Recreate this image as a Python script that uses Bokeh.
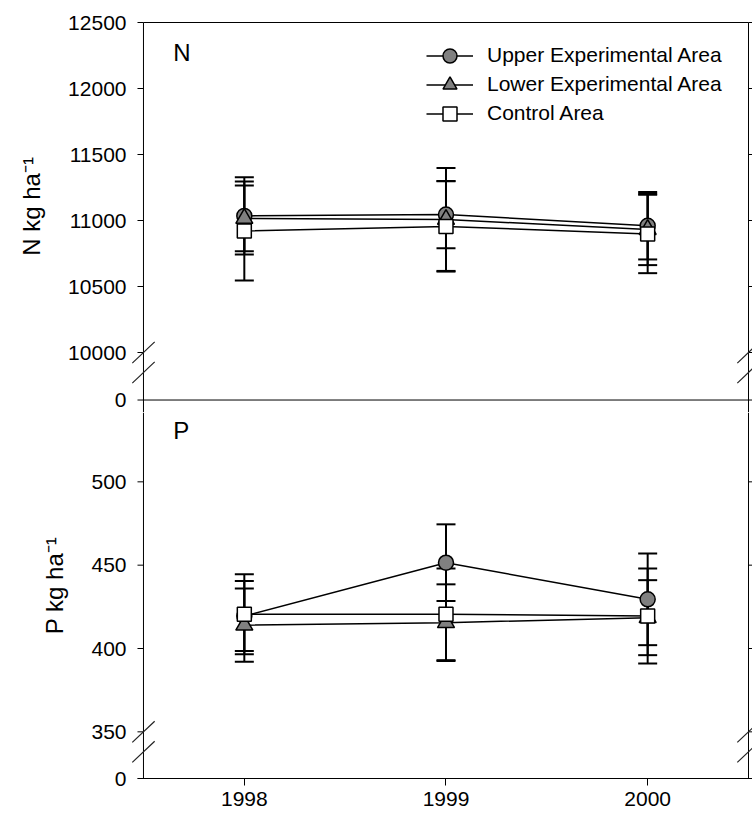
from bokeh.plotting import figure
from bokeh.layouts import column
from bokeh.models import (Range1d, LinearAxis, FixedTicker, Whisker, TeeHead,
                          ColumnDataSource, Legend, LegendItem, Label)
from bokeh.embed import file_html
from bokeh.resources import INLINE

# ---------------- data ----------------
years = [1998, 1999, 2000]
series_names = ["Upper Experimental Area", "Lower Experimental Area", "Control Area"]

n_upper = [11035, 11045, 10960]
n_upper_err = [293, 255, 255]
n_lower = [11016, 11008, 10932]
n_lower_err = [249, 390, 270]
n_control = [10920, 10955, 10898]
n_control_err = [375, 342, 297]

p_upper = [419.5, 451.5, 429.5]
p_upper_err = [21, 23, 27.5]
p_lower = [414, 415.5, 418.5]
p_lower_err = [22, 23, 22.5]
p_control = [420.5, 420.5, 419.5]
p_control_err = [24, 27.5, 28.5]

n_ticks = [10000, 10500, 11000, 11500, 12000, 12500]
p_ticks = [350, 400, 450, 500]
year_ticks = [1998, 1999, 2000]
N_ZERO = 9640      # axis position standing for 0 below the break
P_ZERO = 322

# ---------------- layout constants (pixels) ----------------
FONT = "Liberation Sans"
CANVAS_W = 752
FRAME_LEFT = 131
AXIS_PX = 143
RIGHT_AXIS_PX = 748
PX_PER_YEAR = 202.0
X_AXIS_POS = 1997.5
X_RIGHT_POS = 2000.5
x_start = X_AXIS_POS - (AXIS_PX - FRAME_LEFT) / PX_PER_YEAR
x_end = X_RIGHT_POS + (CANVAS_W - RIGHT_AXIS_PX) / PX_PER_YEAR
FRAME_W = CANVAS_W - FRAME_LEFT
TICK_LEN = 6 / PX_PER_YEAR

N_TOP = 12500
N_UPP = 2500.0 / 330.0          # data units per pixel
N_TOP_BORDER = 20
N_TOP_PX = 22                   # pixel row of N_TOP
N_FRAME_H = 392
P_FRAME_H = 366
P_BOTTOM_BORDER = 36
P_UPP = 50.0 / (250.0 / 3.0)
PAD = "\u00a0\u00a0\u00a0"      # nudges the rotated axis titles upwards

marker_styles = [
    dict(marker="circle", size=15, fill_color="#808080"),
    dict(marker="triangle", size=17, fill_color="#808080"),
    dict(marker="square", size=14, fill_color="white"),
]


def new_fig(height, frame_h, top_border, bottom_border, y_lo, y_hi):
    f = figure(width=CANVAS_W, height=height,
               frame_width=FRAME_W, frame_height=frame_h,
               min_border_left=FRAME_LEFT, min_border_right=0,
               min_border_top=top_border, min_border_bottom=bottom_border,
               x_range=Range1d(x_start, x_end), y_range=Range1d(y_lo, y_hi),
               x_axis_location=None, y_axis_location=None,
               output_backend="svg", toolbar_location=None)
    f.xgrid.grid_line_color = None
    f.ygrid.grid_line_color = None
    f.outline_line_color = None
    return f


def label_axis(ticks, zero, label):
    # tick labels and axis title only; the visible axis line is drawn at x = 1997.5
    ax = LinearAxis(ticker=FixedTicker(ticks=[zero] + ticks),
                    major_label_overrides={zero: "0"}, axis_label=label)
    ax.axis_line_color = None
    ax.major_tick_line_color = None
    ax.minor_tick_line_color = None
    ax.major_tick_out = 0
    ax.major_tick_in = 0
    ax.major_label_text_font = FONT
    ax.major_label_text_font_size = "21px"
    ax.major_label_text_color = "black"
    ax.major_label_standoff = 5
    ax.axis_label_text_font = FONT
    ax.axis_label_text_font_size = "24px"
    ax.axis_label_text_font_style = "normal"
    ax.axis_label_text_color = "black"
    ax.axis_label_standoff = 20
    return ax


def frame_lines(fig, ticks, zero, lo, hi, break_val, upp):
    blk = dict(line_color="black", line_width=1)
    # left axis line + outward ticks
    fig.line([X_AXIS_POS, X_AXIS_POS], [lo, hi], **blk)
    all_t = [zero] + ticks
    fig.segment(x0=[X_AXIS_POS - TICK_LEN] * len(all_t), y0=all_t,
                x1=[X_AXIS_POS] * len(all_t), y1=all_t, **blk)
    # right frame line + outward ticks
    fig.line([X_RIGHT_POS, X_RIGHT_POS], [lo, hi], **blk)
    fig.segment(x0=[X_RIGHT_POS] * len(ticks), y0=ticks,
                x1=[X_RIGHT_POS + 5 / PX_PER_YEAR] * len(ticks), y1=ticks, **blk)
    # axis-break slashes on both vertical edges
    dx = 11.2 / PX_PER_YEAR
    dy = 10.6 * upp
    x0s, y0s, x1s, y1s = [], [], [], []
    for xa in (X_AXIS_POS, X_RIGHT_POS):
        for yc in (break_val, break_val - 20 * upp):
            x0s.append(xa - dx); y0s.append(yc - dy)
            x1s.append(xa + dx); y1s.append(yc + dy)
    fig.segment(x0=x0s, y0=y0s, x1=x1s, y1=y1s, line_color="#222222", line_width=1.2)


def make_panel(fig, vals_list, errs_list):
    renderers = []
    for vals, errs in zip(vals_list, errs_list):
        src = ColumnDataSource(dict(
            x=years,
            lower=[v - e for v, e in zip(vals, errs)],
            upper=[v + e for v, e in zip(vals, errs)]))
        fig.add_layout(Whisker(source=src, base="x", lower="lower", upper="upper",
                               line_color="black", line_width=2,
                               upper_head=TeeHead(size=19, line_width=2, line_color="black"),
                               lower_head=TeeHead(size=19, line_width=2, line_color="black")))
    for vals, st in zip(vals_list, marker_styles):
        src = ColumnDataSource(dict(x=years, y=vals))
        lr = fig.line("x", "y", source=src, line_color="black", line_width=1.5)
        sr = fig.scatter("x", "y", source=src, line_color="black", line_width=1.5, **st)
        renderers.append((lr, sr))
    return renderers


# ---------------- N panel ----------------
n_hi = N_TOP + (N_TOP_PX - N_TOP_BORDER) * N_UPP
n_lo = n_hi - N_FRAME_H * N_UPP
pn = new_fig(N_TOP_BORDER + N_FRAME_H, N_FRAME_H, N_TOP_BORDER, 0, n_lo, n_hi)
pn.add_layout(label_axis(n_ticks, N_ZERO, PAD + "N kg ha\u207b\u00b9"), "left")

# top frame line and the zero line below the break
pn.line([X_AXIS_POS, X_RIGHT_POS], [N_TOP, N_TOP], line_color="black", line_width=1)
pn.line([X_AXIS_POS, x_end], [N_ZERO, N_ZERO], line_color="black", line_width=1)
frame_lines(pn, n_ticks, N_ZERO, n_lo, N_TOP, n_ticks[0], N_UPP)

n_rends = make_panel(pn, [n_upper, n_lower, n_control], [n_upper_err, n_lower_err, n_control_err])

frame_bottom_px = N_TOP_BORDER + N_FRAME_H
for i, (name, (lr, sr)) in enumerate(zip(series_names, n_rends)):
    centre_px = 55 + 29 * i
    lg = Legend(items=[LegendItem(label=name, renderers=[lr, sr])],
                location=(426 - FRAME_LEFT, frame_bottom_px - (centre_px - 17.5) - 35),
                glyph_width=47, glyph_height=35, spacing=0,
                padding=0, margin=0, label_standoff=14,
                border_line_color=None, background_fill_alpha=0,
                label_text_font=FONT, label_text_font_size="21px", label_text_color="black")
    pn.add_layout(lg)

pn.add_layout(Label(x=X_AXIS_POS + 29.7 / PX_PER_YEAR, y=N_TOP - 30 * N_UPP, text="N",
                    text_font=FONT, text_font_size="24px", text_color="black",
                    text_baseline="alphabetic"))

# ---------------- P panel ----------------
p_hi = P_ZERO + P_FRAME_H * P_UPP
pp = new_fig(P_FRAME_H + P_BOTTOM_BORDER, P_FRAME_H, 0, P_BOTTOM_BORDER, P_ZERO, p_hi)
pp.add_layout(label_axis(p_ticks, P_ZERO, PAD + "P kg ha\u207b\u00b9"), "left")

xax = LinearAxis(ticker=FixedTicker(ticks=year_ticks),
                 bounds=(X_AXIS_POS - TICK_LEN, x_end),
                 major_tick_out=7, major_tick_in=0, minor_tick_line_color=None,
                 major_label_text_font=FONT, major_label_text_font_size="21px",
                 major_label_text_color="black", major_label_standoff=6,
                 axis_line_color="black", major_tick_line_color="black")
pp.add_layout(xax, "below")

frame_lines(pp, p_ticks, P_ZERO, P_ZERO, p_hi, p_ticks[0], P_UPP)
make_panel(pp, [p_upper, p_lower, p_control], [p_upper_err, p_lower_err, p_control_err])

pp.add_layout(Label(x=X_AXIS_POS + 29.7 / PX_PER_YEAR, y=p_hi - (430 - 412) * P_UPP, text="P",
                    text_font=FONT, text_font_size="24px", text_color="black",
                    text_baseline="alphabetic"))

layout = column(pn, pp, spacing=0)
open("out.html", "w").write(file_html(layout, INLINE))
